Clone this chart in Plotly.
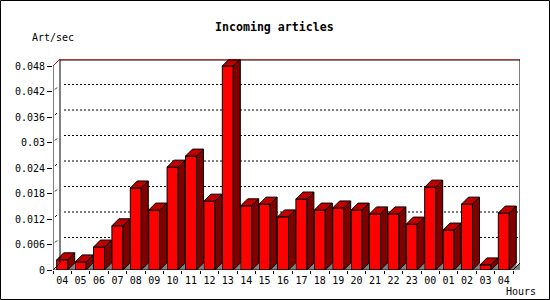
import plotly.graph_objects as go

# ---- data ----
hours = ["04", "05", "06", "07", "08", "09", "10", "11", "12", "13", "14", "15",
         "16", "17", "18", "19", "20", "21", "22", "23", "00", "01", "02", "03", "04"]
art_per_sec = [0.0024, 0.0019, 0.0054, 0.0104, 0.0193, 0.0141, 0.0242, 0.0268,
               0.0162, 0.0480, 0.0151, 0.0155, 0.0125, 0.0167, 0.0141, 0.0146,
               0.0141, 0.0132, 0.0132, 0.0108, 0.0195, 0.0094, 0.0155, 0.0012, 0.0134]
y_tick_vals = [0, 0.006, 0.012, 0.018, 0.024, 0.030, 0.036, 0.042, 0.048]
y_tick_text = ["0", "0.006", "0.012", "0.018", "0.024", "0.03", "0.036", "0.042", "0.048"]
title_text = "Incoming articles"
y_title = "Art/sec"
x_title = "Hours"

# ---- geometry (pixels -> data units) ----
W, H = 550, 300
L, R, T, B = 53, 30, 59, 30
PW, PH = W - L - R, H - T - B
SLOT = 460 / len(hours)          # px per category
YPX = 204 / 0.048                # px per unit of y
XMAX = -0.5 + PW / SLOT
YMAX = PH / YPX
DX = 7 / SLOT
DY = 7 / YPX
BW = 11 / SLOT
YTOP = y_tick_vals[-1]
n = len(hours)

FONT = "DejaVu Sans Mono"

fig = go.Figure()

# shadows, sides, tops as polygons
shx, shy, sdx, sdy, tpx, tpy = [], [], [], [], [], []
for i, v in enumerate(art_per_sec):
    xl, xr = i - BW / 2, i + BW / 2
    shx += [xr, xr + DX, xr + DX, xr, None]
    shy += [0, DY, 0, 0, None]
    sdx += [xr, xr + DX, xr + DX, xr, xr, None]
    sdy += [0, DY, v + DY, v, 0, None]
    tpx += [xl, xl + DX, xr + DX, xr, xl, None]
    tpy += [v, v + DY, v + DY, v, v, None]
# right floor corner
shx += [n - 0.5, n - 0.5 + DX, n - 0.5 + DX, n - 0.5, None]
shy += [0, DY, 0, 0, None]

fig.add_trace(go.Scatter(x=shx, y=shy, mode="lines", fill="toself",
                         fillcolor="#808080", line=dict(width=0, color="#808080"),
                         hoverinfo="skip", showlegend=False))
fig.add_trace(go.Scatter(x=[n - 0.5, n - 0.5 + DX], y=[0, DY], mode="lines",
                         line=dict(width=1, color="black"), hoverinfo="skip", showlegend=False))
fig.add_trace(go.Scatter(x=sdx, y=sdy, mode="lines", fill="toself",
                         fillcolor="#800000", line=dict(width=1, color="black"),
                         hoverinfo="skip", showlegend=False))
fig.add_trace(go.Scatter(x=tpx, y=tpy, mode="lines", fill="toself",
                         fillcolor="#C00000", line=dict(width=1, color="black"),
                         hoverinfo="skip", showlegend=False))
fig.add_trace(go.Bar(x=list(range(n)), y=art_per_sec, width=BW,
                     marker=dict(color="#FF0000", line=dict(color="black", width=1)),
                     hoverinfo="skip", showlegend=False))

shapes = []
# dotted gridlines on back panel
for v in y_tick_vals[1:-1]:
    shapes.append(dict(type="line", layer="below", xref="x", yref="y",
                       x0=-0.5 + DX + 4 / SLOT, x1=XMAX, y0=v + DY, y1=v + DY,
                       line=dict(color="black", width=1, dash="2px,2px")))
    # small visible piece of the diagonal connector
    shapes.append(dict(type="line", xref="x", yref="y",
                       x0=-0.5 + 2 / SLOT, y0=v + 2 / YPX,
                       x1=-0.5 + 4 / SLOT, y1=v + 4 / YPX,
                       line=dict(color="black", width=1)))
# back panel edges
shapes += [
    dict(type="line", xref="x", yref="y", x0=-0.5 + DX, x1=-0.5 + DX, y0=DY, y1=YTOP + DY,
         line=dict(color="black", width=1)),
    dict(type="line", xref="x", yref="y", x0=XMAX, x1=XMAX, y0=DY, y1=YTOP + DY,
         line=dict(color="black", width=1), ),
    dict(type="line", xref="x", yref="y", x0=-0.5 + DX, x1=XMAX, y0=YTOP + DY - 1 / YPX,
         y1=YTOP + DY - 1 / YPX, line=dict(color="black", width=1)),
    dict(type="line", xref="x", yref="y", x0=-0.5 + DX, x1=XMAX, y0=YTOP + DY, y1=YTOP + DY,
         line=dict(color="#E00000", width=1)),
    dict(type="line", xref="x", yref="y", x0=-0.5, x1=-0.5 + DX, y0=YTOP, y1=YTOP + DY,
         line=dict(color="#E00000", width=1)),
    dict(type="line", xref="x", yref="y", x0=-0.5, x1=-0.5 + DX, y0=0, y1=DY,
         line=dict(color="black", width=1)),
    # front axes
    dict(type="line", xref="x", yref="y", x0=-0.5, x1=-0.5, y0=0, y1=YTOP,
         line=dict(color="black", width=1)),
    dict(type="line", xref="x", yref="y", x0=-0.5, x1=n - 0.5, y0=0, y1=0,
         line=dict(color="black", width=1)),
    # outer frame
    dict(type="rect", xref="paper", yref="paper",
         x0=(0.5 - L) / PW, x1=(W - 0.5 - L) / PW,
         y0=(T + PH - (H - 0.5)) / PH, y1=(T + PH - 0.5) / PH,
         line=dict(color="black", width=1), fillcolor="rgba(0,0,0,0)"),
]

annotations = [
    dict(text="<b>" + title_text + "</b>", xref="paper", yref="paper",
         x=(274 - L) / PW, y=(T + PH - 27) / PH, xanchor="center", yanchor="middle",
         showarrow=False, font=dict(family=FONT, size=11.6, color="black")),
    dict(text=y_title, xref="paper", yref="paper",
         x=(30 - L) / PW, y=(T + PH - 37) / PH, xanchor="left", yanchor="middle",
         showarrow=False, font=dict(family=FONT, size=10, color="black")),
    dict(text=x_title, xref="paper", yref="paper",
         x=(504 - L) / PW, y=(T + PH - 291) / PH, xanchor="left", yanchor="middle",
         showarrow=False, font=dict(family=FONT, size=10, color="black")),
]

fig.update_layout(
    width=W, height=H,
    margin=dict(l=L, r=R, t=T, b=B, pad=0),
    paper_bgcolor="white", plot_bgcolor="white",
    shapes=shapes, annotations=annotations,
    showlegend=False, hovermode=False,
    xaxis=dict(range=[-0.5, XMAX], tickmode="array", tickvals=list(range(n)),
               ticktext=hours, ticks="outside", ticklen=1, tickcolor="rgba(0,0,0,0)",
               showgrid=False, zeroline=False, showline=False, fixedrange=True,
               tickfont=dict(family=FONT, size=10, color="black"),
               minor=dict(tickmode="array", tickvals=[i - 0.5 for i in range(n + 1)],
                          ticks="outside", ticklen=3, tickcolor="black", showgrid=False)),
    yaxis=dict(range=[0, YMAX], tickmode="array", tickvals=y_tick_vals,
               ticktext=y_tick_text, ticks="outside", ticklen=5, tickcolor="black",
               showgrid=False, zeroline=False, showline=False, fixedrange=True,
               tickfont=dict(family=FONT, size=10, color="black")),
)

fig.write_html("out.html")
